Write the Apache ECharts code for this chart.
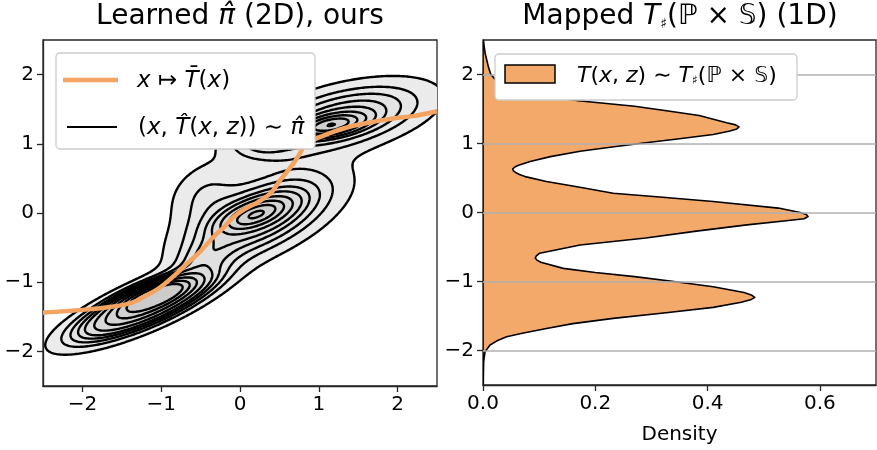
<!DOCTYPE html>
<html><head><meta charset="utf-8">
<script src="https://cdn.jsdelivr.net/npm/echarts@6/dist/echarts.min.js"></script>
<style>html,body{margin:0;padding:0;background:#fff}#c{width:877px;height:450px}</style>
</head><body><div id="c"></div>
<script>
// ---- tick labels ----
const posTicks = [-2, -1, 0, 1, 2];
const densityTicks = [0, 0.2, 0.4, 0.6];

// ---- left panel: mean map x -> T̄(x) ----
const meanMapX = [-2.5, -2.0, -1.6, -1.36, -1.2, -1.02, -0.85, -0.68, -0.5, -0.34, -0.2, -0.085, 0.05, 0.26, 0.4, 0.51, 0.6, 0.68, 0.75, 0.81, 0.9, 1.02, 1.2, 1.4, 1.7, 1.96, 2.2, 2.5];
const meanMapY = [-1.44, -1.4, -1.35, -1.29, -1.2, -1.08, -0.92, -0.74, -0.55, -0.35, -0.2, -0.06, 0.05, 0.18, 0.3, 0.475, 0.6, 0.72, 0.84, 0.96, 1.04, 1.1, 1.18, 1.25, 1.32, 1.37, 1.4, 1.47];

// ---- left panel: joint density, estimated as a mixture of blobs ----
const compWeight = [0.08, 0.27, 0.06, 0.26, 0.05, 0.20, 0.03, 0.03, 0.02];
const compMeanX  = [-1.05, -1.22, 0.2, 0.25, 1.15, 1.3, -0.45, 0.25, -0.45];
const compMeanY  = [-1.17, -1.35, -0.02, -0.05, 1.27, 1.37, 0.3, 1.05, -0.65];
const compSdX    = [0.28, 0.52, 0.25, 0.58, 0.25, 0.65, 0.3, 0.3, 0.25];
const compSdY    = [0.14, 0.29, 0.14, 0.4, 0.1, 0.31, 0.3, 0.2, 0.2];
const compRho    = [0.7, 0.8, 0.6, 0.6, 0.5, 0.5, 0.3, 0.0, 0.5];
const isoProportions = [0.05, 0.155, 0.26, 0.365, 0.47, 0.575, 0.68, 0.785, 0.89];

// ---- right panel: 1D density of T(x,z) ----
const densityY = [2.5, 2.3, 2.2, 2.1, 2.0, 1.9, 1.8, 1.7, 1.62, 1.54, 1.47, 1.405, 1.3, 1.27, 1.24, 1.21, 1.18, 1.13, 1.07, 1.01, 0.95, 0.887, 0.81, 0.74, 0.68, 0.655, 0.63, 0.605, 0.58, 0.55, 0.52, 0.45, 0.37, 0.28, 0.22, 0.16, 0.064, 0.0, -0.03, -0.058, -0.09, -0.12, -0.18, -0.27, -0.37, -0.47, -0.59, -0.63, -0.66, -0.69, -0.72, -0.81, -0.87, -0.93, -1.0, -1.075, -1.16, -1.2, -1.23, -1.26, -1.3, -1.375, -1.45, -1.535, -1.61, -1.68, -1.75, -1.8, -1.86, -1.92, -2.02, -2.17, -2.5];
const densityValue = [0.0005, 0.004, 0.007, 0.01, 0.014, 0.025, 0.055, 0.1, 0.17, 0.27, 0.33, 0.385, 0.434, 0.45, 0.456, 0.452, 0.44, 0.41, 0.35, 0.29, 0.23, 0.173, 0.12, 0.084, 0.062, 0.056, 0.053, 0.054, 0.058, 0.065, 0.075, 0.113, 0.17, 0.232, 0.32, 0.41, 0.526, 0.565, 0.576, 0.579, 0.572, 0.54, 0.47, 0.38, 0.29, 0.173, 0.101, 0.095, 0.093, 0.096, 0.103, 0.143, 0.2, 0.27, 0.34, 0.41, 0.465, 0.479, 0.484, 0.478, 0.46, 0.41, 0.33, 0.232, 0.16, 0.113, 0.07, 0.042, 0.025, 0.0125, 0.0036, 0.001, 0.0002];

// ===== density grid + contour tracing (marching squares) =====
const G0 = -3.5, G1 = 3.5, GS = 0.02;
const gx = []; for (let v = G0; v <= G1 + 1e-9; v += GS) gx.push(v);
const gy = gx.slice();
const nx = gx.length, ny = gy.length;
const vals = new Float64Array(nx * ny);
for (let j = 0; j < ny; j++) for (let i = 0; i < nx; i++) {
  let s = 0;
  for (let k = 0; k < compWeight.length; k++) {
    const dx = (gx[i] - compMeanX[k]) / compSdX[k], dy = (gy[j] - compMeanY[k]) / compSdY[k], r = compRho[k];
    const q = (dx * dx - 2 * r * dx * dy + dy * dy) / (1 - r * r);
    s += compWeight[k] * Math.exp(-0.5 * q) / (2 * Math.PI * compSdX[k] * compSdY[k] * Math.sqrt(1 - r * r));
  }
  vals[j * nx + i] = s;
}
const sorted = Array.from(vals).sort((a, b) => b - a);
const total = sorted.reduce((a, b) => a + b, 0);
const cum = []; let acc = 0; for (const v of sorted) { acc += v; cum.push(acc / total); }
const levelValues = isoProportions.map(p => { const t = 1 - p; let idx = cum.findIndex(c => c >= t); if (idx < 0) idx = cum.length - 1; return sorted[idx]; });

function traceLevel(c) {
  const adj = new Map();
  const link = (a, b) => { if (!adj.has(a)) adj.set(a, []); if (!adj.has(b)) adj.set(b, []); adj.get(a).push(b); adj.get(b).push(a); };
  const hId = (i, j) => (j * nx + i) * 2, vId = (i, j) => (j * nx + i) * 2 + 1;
  for (let j = 0; j < ny - 1; j++) for (let i = 0; i < nx - 1; i++) {
    const v00 = vals[j * nx + i], v10 = vals[j * nx + i + 1], v01 = vals[(j + 1) * nx + i], v11 = vals[(j + 1) * nx + i + 1];
    const s00 = v00 >= c, s10 = v10 >= c, s01 = v01 >= c, s11 = v11 >= c;
    if (s00 === s10 && s10 === s11 && s11 === s01) continue;
    const eB = hId(i, j), eT = hId(i, j + 1), eL = vId(i, j), eR = vId(i + 1, j);
    const cr = [];
    if (s00 !== s10) cr.push(eB); if (s10 !== s11) cr.push(eR); if (s11 !== s01) cr.push(eT); if (s01 !== s00) cr.push(eL);
    if (cr.length === 2) link(cr[0], cr[1]);
    else {
      const sc = (v00 + v10 + v01 + v11) / 4 >= c;
      if (s00 !== sc) link(eB, eL); if (s10 !== sc) link(eB, eR); if (s11 !== sc) link(eR, eT); if (s01 !== sc) link(eT, eL);
    }
  }
  const pt = id => {
    const cell = id >> 1, i = cell % nx, j = (cell - i) / nx;
    if ((id & 1) === 0) { const a = vals[j * nx + i], b = vals[j * nx + i + 1], t = (c - a) / (b - a); return [gx[i] + t * GS, gy[j]]; }
    const a = vals[j * nx + i], b = vals[(j + 1) * nx + i], t = (c - a) / (b - a); return [gx[i], gy[j] + t * GS];
  };
  const seen = new Set(), out = [];
  for (const start of adj.keys()) {
    if (seen.has(start)) continue;
    const ids = [start]; seen.add(start);
    let prev = -1, cur = start;
    while (true) {
      let next = -1;
      for (const n of adj.get(cur)) if (n !== prev && !seen.has(n)) { next = n; break; }
      if (next < 0) break;
      seen.add(next); ids.push(next); prev = cur; cur = next;
    }
    if (ids.length > 3) out.push(ids.map(pt));
  }
  return out;
}
const loops = [];
levelValues.forEach((c, k) => traceLevel(c).forEach(pts => loops.push({ lev: k, pts })));
const bandColors = ['#ebebeb', '#e8e8e8', '#e4e4e4', '#e0e0e0', '#dcdcdc', '#d8d8d8', '#d4d4d4', '#d0d0d0', '#cccccc'];

// ===== chart =====
const FONT = 'DejaVu Sans';
const INK = '#262626';
const minusFmt = v => (v < 0 ? '\u2212' + Math.abs(v) : String(v));
function axis(gridIndex, min, max, ticks, fmt, extra) {
  return Object.assign({
    type: 'value', gridIndex, min, max,
    axisLine: { show: true, onZero: false, lineStyle: { color: INK, width: 1.3 } },
    axisTick: { show: true, customValues: ticks, length: 6, lineStyle: { color: INK, width: 1.3 } },
    axisLabel: { customValues: ticks, formatter: fmt, fontSize: 20, color: '#000', fontFamily: FONT, margin: 9 },
    splitLine: { show: false }
  }, extra || {});
}
const chart = echarts.init(document.getElementById('c'), null, { renderer: 'canvas' });
const orange = '#f4a460';
const fillOrange = 'rgba(242,160,90,0.9)';
chart.setOption({
  animation: false,
  grid: [
    { left: 43, top: 40, width: 394, height: 346, show: true, borderColor: INK, borderWidth: 1.3, backgroundColor: 'transparent' },
    { left: 483, top: 40, width: 393, height: 346, show: true, borderColor: INK, borderWidth: 1.3, backgroundColor: 'transparent' }
  ],
  xAxis: [
    axis(0, -2.5, 2.5, posTicks, minusFmt),
    axis(1, 0, 0.7, densityTicks, v => v.toFixed(1), { name: 'Density', nameLocation: 'middle', nameGap: 40, nameTextStyle: { fontSize: 20, fontFamily: FONT, color: '#000' } })
  ],
  yAxis: [
    axis(0, -2.5, 2.5, posTicks, minusFmt),
    axis(1, -2.5, 2.5, posTicks, minusFmt)
  ],
  series: [
    {
      type: 'custom', xAxisIndex: 0, yAxisIndex: 0, clip: true, silent: true, z: 2,
      data: loops.map((l, i) => [l.pts[0][0], l.pts[0][1], i]),
      encode: { x: 0, y: 1 },
      renderItem: (params, api) => {
        const l = loops[params.dataIndex];
        return { type: 'polygon', z2: l.lev, shape: { points: l.pts.map(p => api.coord(p)) }, style: { fill: bandColors[l.lev], stroke: '#000', lineWidth: 2.4, lineJoin: 'round' } };
      }
    },
    {
      type: 'line', xAxisIndex: 0, yAxisIndex: 0, z: 5, showSymbol: false, smooth: 0.3, clip: true,
      data: meanMapX.map((x, i) => [x, meanMapY[i]]),
      lineStyle: { color: orange, width: 4.5 }
    },
    {
      type: 'line', xAxisIndex: 1, yAxisIndex: 1, z: 1, showSymbol: false, data: [[0, 0]], lineStyle: { opacity: 0 },
      markLine: { silent: true, symbol: 'none', label: { show: false }, animation: false,
        lineStyle: { color: '#b0b0b0', width: 1.6, type: 'solid' },
        data: posTicks.map(v => ({ yAxis: v })) }
    },
    {
      type: 'custom', xAxisIndex: 1, yAxisIndex: 1, clip: true, silent: true, z: 3,
      data: [[0, 0]], encode: { x: 0, y: 1 },
      renderItem: (params, api) => {
        const pts = [api.coord([0, densityY[0]])].concat(densityValue.map((d, i) => api.coord([d, densityY[i]]))).concat([api.coord([0, densityY[densityY.length - 1]])]);
        return { type: 'polygon', shape: { points: pts }, style: { fill: fillOrange, stroke: '#000', lineWidth: 1.6, lineJoin: 'round' } };
      }
    }
  ],
  graphic: [
    { type: 'text', x: 240, y: 17, z: 100, style: { text: 'Learned {i|\u03C0\u0302} (2D), ours', fontSize: 28, fontFamily: FONT, fill: '#000', align: 'center', verticalAlign: 'middle',
      rich: { i: { fontStyle: 'italic', fontSize: 28, fontFamily: FONT } } } },
    { type: 'text', x: 680, y: 17, z: 100, style: { text: 'Mapped {i|T}{s|\u266F}(\u2119 \u00D7 \uD835\uDD4A) (1D)', fontSize: 28, fontFamily: FONT, fill: '#000', align: 'center', verticalAlign: 'middle',
      rich: { i: { fontStyle: 'italic', fontSize: 28, fontFamily: FONT }, s: { fontSize: 14, fontFamily: FONT, verticalAlign: 'bottom' } } } },
    // left legend
    { type: 'rect', z: 100, shape: { x: 56, y: 53, width: 259, height: 96, r: 4 }, style: { fill: '#ffffff', stroke: '#cccccc', lineWidth: 1.3 } },
    { type: 'line', z: 101, shape: { x1: 63, y1: 80, x2: 118, y2: 80 }, style: { stroke: orange, lineWidth: 4.5 } },
    { type: 'text', z: 101, x: 137, y: 81, style: { text: '{i|x} \u21A6 {i|T\u0304}({i|x})', fontSize: 23, fontFamily: FONT, fill: '#000', verticalAlign: 'middle',
      rich: { i: { fontStyle: 'italic', fontSize: 23, fontFamily: FONT } } } },
    { type: 'line', z: 101, shape: { x1: 67, y1: 127, x2: 117, y2: 127 }, style: { stroke: '#000', lineWidth: 2.2 } },
    { type: 'text', z: 101, x: 138, y: 128, style: { text: '({i|x}, {i|T\u0302}({i|x}, {i|z})) \u223C {i|\u03C0\u0302}', fontSize: 23, fontFamily: FONT, fill: '#000', verticalAlign: 'middle',
      rich: { i: { fontStyle: 'italic', fontSize: 23, fontFamily: FONT } } } },
    // right legend
    { type: 'rect', z: 100, shape: { x: 495, y: 54, width: 302, height: 46, r: 4 }, style: { fill: '#ffffff', stroke: '#cccccc', lineWidth: 1.3 } },
    { type: 'rect', z: 101, shape: { x: 505, y: 65, width: 50, height: 18 }, style: { fill: fillOrange, stroke: '#000', lineWidth: 1.5 } },
    { type: 'text', z: 101, x: 577, y: 76, style: { text: '{i|T}({i|x}, {i|z}) \u223C {i|T}{s|\u266F}(\u2119 \u00D7 \uD835\uDD4A)', fontSize: 22, fontFamily: FONT, fill: '#000', verticalAlign: 'middle',
      rich: { i: { fontStyle: 'italic', fontSize: 22, fontFamily: FONT }, s: { fontSize: 12, fontFamily: FONT, verticalAlign: 'bottom' } } } }
  ]
});
</script>
</body></html>
